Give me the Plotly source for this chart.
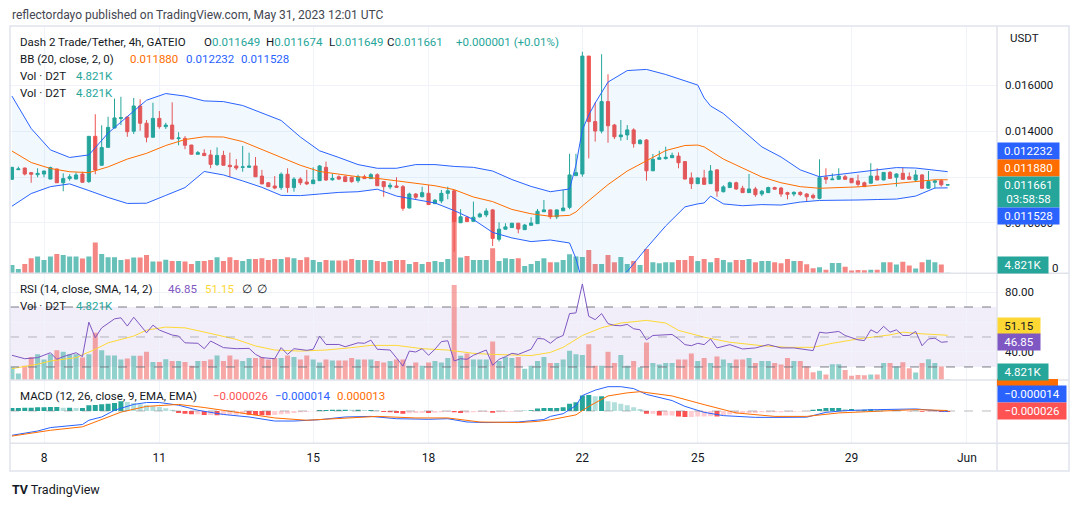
import plotly.graph_objects as go
import pandas as pd

W, H = 1079, 506

# ---------------- data ----------------
bar_times = pd.date_range("2023-05-07 04:00", periods=147, freq="4h")

opens = [
    .01190, .01232, .01239, .01219, .01210, .01213, .01191, .01235, .01175, .01193,
    .01191, .01213, .01180, .01377, .01251, .01329, .01413, .01455, .01461, .01399,
    .01509, .01434, .01373, .01455, .01419, .01426, .01367, .01368, .01339, .01299,
    .01303, .01296, .01254, .01294, .01251, .01248, .01242, .01242, .01248, .01204,
    .01175, .01161, .01154, .01212, .01154, .01191, .01178, .01171, .01184, .01242,
    .01188, .01201, .01201, .01199, .01184, .01201, .01193, .01210, .01180, .01157,
    .01161, .01158, .01065, .01126, .01114, .01129, .01084, .01096, .01129, .01140,
    .01001, .01025, .01007, .01027, .01035, .01057, .00929, .00973, .00980, .00999,
    .00971, .00990, .00997, .01049, .01057, .01027, .01053, .01068, .01206, .01213,
    .01726, .01441, .01400, .01528, .01426, .01375, .01383, .01405, .01345, .01361,
    .01227, .01277, .01280, .01284, .01291, .01267, .01196, .01171, .01196, .01171,
    .01231, .01136, .01154, .01175, .01151, .01132, .01148, .01126, .01132, .01154,
    .01152, .01132, .01126, .01133, .01126, .01120, .01107, .01199, .01188, .01190,
    .01201, .01194, .01183, .01175, .01173, .01204, .01187, .01220, .01199, .01216,
    .01201, .01187, .01209, .01151, .01177, .01184, .011649]
highs = [
    .01244, .01245, .01241, .01222, .01238, .01227, .01245, .01236, .01216, .01212,
    .01220, .01223, .01378, .01473, .01425, .01462, .01541, .01549, .01465, .01544,
    .01538, .01448, .01523, .01487, .01436, .01525, .01395, .01378, .01340, .01313,
    .01321, .01318, .01329, .01314, .01306, .01278, .01335, .01306, .01287, .01231,
    .01178, .01204, .01220, .01238, .01199, .01199, .01231, .01242, .01252, .01267,
    .01216, .01207, .01207, .01201, .01210, .01210, .01217, .01216, .01181, .01175,
    .01199, .01165, .01132, .01130, .01158, .01165, .01104, .01144, .01158, .01143,
    .01060, .01030, .01093, .01045, .01064, .01061, .01003, .00999, .01000, .01000,
    .00996, .01025, .01061, .01100, .01058, .01058, .01144, .01301, .01301, .01745,
    .01727, .01525, .01734, .01647, .01431, .01448, .01426, .01412, .01365, .01365,
    .01300, .01314, .01332, .01306, .01307, .01268, .01220, .01197, .01231, .01252,
    .01235, .01164, .01180, .01180, .01162, .01213, .01157, .01144, .01158, .01158,
    .01157, .01136, .01138, .01138, .01130, .01128, .01277, .01238, .01216, .01238,
    .01209, .01196, .01210, .01180, .01260, .01238, .01221, .01226, .01216, .01241,
    .01220, .01231, .01213, .01226, .01187, .01190, .011674]
lows = [
    .01187, .01230, .01207, .01175, .01199, .01199, .01190, .01174, .01138, .01184,
    .01190, .01176, .01174, .01212, .01250, .01328, .01412, .01426, .01375, .01387,
    .01401, .01351, .01372, .01410, .01409, .01364, .01338, .01321, .01298, .01298,
    .01292, .01238, .01248, .01250, .01199, .01230, .01223, .01241, .01200, .01169,
    .01157, .01147, .01144, .01132, .01136, .01165, .01165, .01170, .01183, .01183,
    .01184, .01187, .01179, .01175, .01175, .01192, .01192, .01161, .01114, .01147,
    .01154, .01053, .01064, .01100, .01112, .01079, .01083, .01086, .01103, .00875,
    .01000, .01004, .01006, .01023, .01025, .00900, .00919, .00972, .00979, .00955,
    .00970, .00989, .00996, .01048, .01017, .01017, .01052, .01060, .01205, .01201,
    .01281, .01354, .01390, .01349, .01365, .01358, .01361, .01328, .01342, .01184,
    .01226, .01276, .01276, .01283, .01238, .01190, .01148, .01170, .01167, .01170,
    .01114, .01133, .01153, .01144, .01131, .01131, .01114, .01117, .01131, .01146,
    .01114, .01103, .01116, .01117, .01093, .01103, .01103, .01170, .01187, .01189,
    .01189, .01174, .01158, .01157, .01172, .01186, .01186, .01193, .01158, .01189,
    .01189, .01180, .01150, .01150, .01150, .01158, .011649]
closes = [
    .01242, .01235, .01213, .01212, .01216, .01226, .01241, .01175, .01193, .01201,
    .01209, .01177, .01377, .01231, .01328, .01416, .01457, .01458, .01397, .01509,
    .01434, .01373, .01455, .01419, .01426, .01365, .01370, .01338, .01299, .01306,
    .01293, .01255, .01294, .01251, .01245, .01239, .01244, .01248, .01201, .01170,
    .01158, .01152, .01212, .01154, .01191, .01175, .01170, .01187, .01248, .01187,
    .01194, .01191, .01180, .01180, .01201, .01193, .01210, .01162, .01158, .01164,
    .01155, .01064, .01126, .01112, .01132, .01080, .01099, .01129, .01140, .01006,
    .01027, .01006, .01025, .01039, .01052, .00933, .00973, .00983, .00999, .00974,
    .00991, .01000, .01051, .01057, .01027, .01057, .01065, .01209, .01219, .01726,
    .01441, .01400, .01528, .01423, .01375, .01383, .01405, .01345, .01360, .01227,
    .01277, .01284, .01286, .01294, .01262, .01191, .01171, .01196, .01168, .01226,
    .01139, .01157, .01175, .01148, .01132, .01148, .01123, .01138, .01154, .01147,
    .01126, .01125, .01133, .01124, .01114, .01110, .01197, .01190, .01191, .01204,
    .01190, .01175, .01168, .01158, .01204, .01187, .01220, .01194, .01213, .01190,
    .01190, .01209, .01151, .01180, .01183, .01166, .011661]
volumes = [
    83000, 43000, 93000, 150000, 167000, 133000, 167000, 193000, 183000, 167000,
    167000, 147000, 167000, 307000, 193000, 160000, 160000, 133000, 140000, 157000,
    157000, 183000, 117000, 117000, 135000, 123000, 123000, 117000, 93000, 123000,
    123000, 133000, 160000, 123000, 160000, 133000, 123000, 143000, 143000, 150000,
    133000, 143000, 143000, 160000, 150000, 133000, 160000, 133000, 113000, 133000,
    127000, 127000, 127000, 143000, 133000, 133000, 133000, 123000, 113000, 123000,
    133000, 133000, 93000, 113000, 93000, 113000, 123000, 113000, 143000, 617000,
    157000, 173000, 133000, 133000, 133000, 250000, 123000, 150000, 143000, 150000,
    73000, 93000, 123000, 150000, 110000, 110000, 133000, 190000, 167000, 163000,
    233000, 93000, 93000, 183000, 110000, 163000, 93000, 123000, 83000, 243000,
    110000, 100000, 110000, 110000, 133000, 133000, 173000, 123000, 143000, 110000,
    153000, 133000, 110000, 133000, 133000, 143000, 110000, 123000, 123000, 110000,
    100000, 143000, 123000, 123000, 90000, 50000, 60000, 35000, 102000, 102000,
    65000, 28000, 32000, 31000, 35000, 35000, 110000, 110000, 88000, 115000,
    77000, 48000, 110000, 135000, 110000, 88000, 4821]

# Bollinger Bands (20, 2) sampled at these bar indices
bb_idx = [0, 3, 6, 9, 12, 15, 18, 21, 24, 27, 30, 33, 36, 39, 42, 45, 48, 51, 54, 57,
          60, 63, 66, 69, 72, 75, 78, 81, 84, 87, 88, 89, 90, 91, 93, 96, 99, 102, 105,
          107, 108, 109, 111, 114, 117, 120, 123, 126, 129, 132, 135, 138, 141, 144, 146]
bb_upper = [.01552, .01411, .01318, .01285, .01296, .01391, .01463, .01534, .01563, .01552,
            .01531, .01528, .01511, .01478, .01446, .01374, .01314, .01285, .01254, .01238,
            .01238, .01254, .01254, .01246, .01242, .01226, .01189, .01159, .01136, .01148,
            .01252, .01405, .01470, .01522, .01613, .01663, .01668, .01646, .01620,
            .01600, .01544, .01509, .01476, .01405, .01331, .01287, .01231, .01201, .01211,
            .01222, .01233, .01241, .01239, .01228, .012232]
bb_basis = [.01313, .01263, .01237, .01223, .01219, .01244, .01278, .01303, .01337, .01363,
            .01375, .01374, .01354, .01320, .01285, .01251, .01224, .01211, .01201, .01194,
            .01184, .01175, .01162, .01145, .01113, .01093, .01059, .01040, .01029, .01033,
            .01048, .01074, .01098, .01122, .01167, .01226, .01272, .01315, .01337,
            .01339, .01331, .01313, .01278, .01239, .01200, .01175, .01158, .01151, .01153,
            .01157, .01164, .01171, .01181, .01188, .011880]
bb_lower = [.01073, .01128, .01158, .01170, .01141, .01111, .01085, .01086, .01120, .01154,
            .01224, .01209, .01183, .01155, .01120, .01119, .01126, .01133, .01136, .01147,
            .01117, .01102, .01087, .01054, .01015, .00959, .00935, .00919, .00926, .00913,
            .00845, .00743, .00726, .00722, .00722, .00789, .00891, .00987, .01070,
            .01083, .01087, .01117, .01083, .01075, .01080, .01078, .01091, .01098, .01098,
            .01100, .01102, .01104, .01117, .01152, .011528]

# RSI (14) and its SMA (14)
rsi_idx = [0, 1, 2, 4, 6, 7, 8, 10, 11, 12, 13, 14, 16, 17, 18, 19, 21, 22, 23, 25,
           26, 27, 29, 30, 31, 33, 35, 37, 38, 39, 41, 42, 43, 44, 46, 47, 48, 49, 51, 52,
           54, 55, 56, 57, 59, 60, 61, 62, 63, 64, 65, 66, 67, 68, 69, 70, 71, 72, 74, 75,
           76, 77, 78, 79, 81, 82, 83, 84, 85, 86, 87, 88, 89, 90, 91, 92, 93, 94, 95, 96,
           97, 98, 99, 100, 103, 104, 105, 106, 107, 108, 109, 110, 111, 112, 114, 116, 118, 120, 122, 124,
           125, 126, 127, 129, 130, 132, 133, 134, 135, 136, 137, 138, 139, 140, 141, 142, 143, 144, 145, 146]
rsi_val = [37.8, 36.9, 35.5, 36.2, 39.5, 35.1, 36.9, 39.5, 36.9, 59.9,
           49.5, 56.1, 62.1, 62.8, 57.3, 63.2, 52.8, 57.9, 54.6, 51.3,
           50.6, 46.1, 45.8, 42.2, 47.3, 42.9, 42.2, 42.4, 38.4, 36.2,
           35.5, 42.9, 38.4, 42.2, 41.1, 41.8, 50.6, 45.0, 45.0, 43.5,
           46.1, 45.8, 47.9, 41.8, 41.3, 36.0, 30.6, 40.6, 40.0, 42.2,
           37.8, 41.8, 46.9, 47.5, 34.0, 35.5, 35.1, 37.8, 41.3, 31.1,
           35.1, 36.9, 39.1, 38.4, 41.8, 49.0, 48.7, 45.8, 49.2, 51.0,
           65.6, 66.1, 85.4, 63.8, 61.6, 65.6, 58.9, 57.7, 57.5, 58.4,
           55.5, 54.8, 48.1, 51.0, 51.7, 48.7, 44.9, 44.2, 45.8, 44.9,
           48.7, 42.7, 44.0, 44.9, 42.0, 42.7, 44.9, 42.7, 42.7, 41.3,
           40.9, 53.2, 52.6, 53.7, 51.0, 48.1, 47.6, 54.8, 52.6, 57.1,
           53.2, 54.8, 51.0, 51.0, 53.7, 44.2, 48.7, 49.2, 46.5, 46.85]
rsima_idx = [0, 4, 6, 10, 13, 15, 19, 21, 24, 27, 30, 35, 38, 41, 45, 49, 53, 56, 60, 64,
             68, 72, 75, 81, 84, 86, 89, 92, 95, 99, 102, 104, 108, 112, 117, 121, 125, 128, 132, 137,
             139, 142, 146]
rsima_val = [28.9, 31.8, 34.0, 36.2, 41.8, 46.1, 50.6, 54.6, 56.6, 56.1,
             53.3, 48.4, 44.0, 41.3, 40.6, 41.3, 42.9, 44.4, 44.4, 42.2,
             41.3, 39.1, 38.4, 37.6, 39.7, 43.1, 51.0, 56.2, 59.3, 61.1,
             59.3, 54.4, 49.9, 46.5, 44.2, 43.1, 43.1, 45.8, 48.7, 51.4,
             53.2, 52.1, 51.15]

# MACD (12, 26, 9)
macd_idx = [0, 4, 6, 11, 12, 14, 16, 19, 21, 23, 26, 29, 33, 37, 41, 44, 48, 52, 56, 60,
            65, 68, 71, 74, 79, 81, 83, 84, 86, 88, 89, 91, 93, 95, 97, 99, 103, 105, 108, 111,
            116, 120, 124, 127, 130, 135, 141, 146]
macd_val = [-630e-6, -520e-6, -430e-6, -350e-6, -240e-6, -155e-6, 20e-6, 170e-6, 220e-6, 220e-6,
            150e-6, 20e-6, -90e-6, -155e-6, -260e-6, -260e-6, -225e-6, -155e-6, -140e-6, -200e-6,
            -215e-6, -200e-6, -285e-6, -300e-6, -285e-6, -260e-6, -220e-6, -140e-6, -70e-6, 140e-6,
            400e-6, 540e-6, 630e-6, 630e-6, 580e-6, 430e-6, 270e-6, 120e-6, -35e-6, -120e-6,
            -165e-6, -165e-6, -160e-6, -35e-6, 10e-6, 35e-6, 53e-6, -14e-6]
signal_idx = [0, 6, 11, 14, 17, 21, 26, 30, 36, 41, 46, 52, 57, 63, 68, 73, 79, 82, 84, 88,
              90, 93, 96, 98, 103, 108, 113, 119, 124, 129, 135, 141, 146]
signal_val = [-650e-6, -500e-6, -410e-6, -225e-6, -30e-6, 120e-6, 170e-6, 90e-6, -50e-6, -180e-6,
              -240e-6, -180e-6, -140e-6, -180e-6, -180e-6, -285e-6, -300e-6, -270e-6, -230e-6, -100e-6,
              120e-6, 390e-6, 470e-6, 500e-6, 390e-6, 165e-6, -50e-6, -140e-6, -140e-6, -50e-6,
              -10e-6, 35e-6, 13e-6]
macd_hist = [
    78e-6, 78e-6, 85e-6, 85e-6, 95e-6, 95e-6, 103e-6, 103e-6, 85e-6, 85e-6,
    78e-6, 78e-6, 148e-6, 155e-6, 173e-6, 190e-6, 208e-6, 250e-6, 233e-6, 208e-6,
    173e-6, 148e-6, 120e-6, 103e-6, 70e-6, 35e-6, -53e-6, -70e-6, -85e-6, -85e-6,
    -103e-6, -103e-6, -113e-6, -103e-6, -95e-6, -95e-6, -85e-6, -95e-6, -103e-6, -108e-6,
    -113e-6, -103e-6, -85e-6, -70e-6, -53e-6, -35e-6, -18e-6, -8e-6, 25e-6, 25e-6,
    30e-6, 35e-6, 35e-6, 30e-6, 35e-6, 25e-6, 25e-6, 18e-6, -25e-6, -35e-6,
    -53e-6, -70e-6, -60e-6, -53e-6, -43e-6, -53e-6, -43e-6, -35e-6, -18e-6, -35e-6,
    -53e-6, -43e-6, -35e-6, -25e-6, -25e-6, -43e-6, -35e-6, -25e-6, -18e-6, -8e-6,
    8e-6, 18e-6, 63e-6, 80e-6, 80e-6, 80e-6, 98e-6, 185e-6, 225e-6, 400e-6,
    413e-6, 385e-6, 385e-6, 255e-6, 228e-6, 185e-6, 150e-6, 98e-6, 53e-6, -70e-6,
    -70e-6, -115e-6, -115e-6, -115e-6, -140e-6, -158e-6, -158e-6, -140e-6, -140e-6, -133e-6,
    -145e-6, -105e-6, -88e-6, -70e-6, -53e-6, -53e-6, -53e-6, -35e-6, -35e-6, -35e-6,
    -35e-6, -18e-6, -18e-6, -13e-6, -8e-6, 35e-6, 53e-6, 80e-6, 80e-6, 80e-6,
    53e-6, 53e-6, 35e-6, 35e-6, 45e-6, 35e-6, 25e-6, 18e-6, 18e-6, 8e-6,
    -8e-6, 8e-6, -18e-6, -18e-6, -18e-6, -25e-6, -26e-6]

date_ticks = ["2023-05-08", "2023-05-11", "2023-05-15", "2023-05-18",
              "2023-05-22", "2023-05-25", "2023-05-29", "2023-06-01"]
date_labels = ["8", "11", "15", "18", "22", "25", "29", "Jun"]
price_ticks = [0.010, 0.012, 0.014, 0.016]
price_labels = ["0.010000", "", "0.014000", "0.016000"]   # 0.012000 sits under the value tags
rsi_ticks = [40, 60, 80]
rsi_labels = ["40.00", "", "80.00"]                          # 60.00 sits under the 51.15 tag

# ---------------- styling ----------------
UP, DOWN = "#26a69a", "#ef5350"
BLUE, ORANGE, PURPLE, YELLOW = "#2962ff", "#ff6d00", "#7e57c2", "#fdd835"
TXT = "#131722"
GRID = "#f0f3fa"
BORDER = "#e0e3eb"
FONT = "Roboto"


def px_x(x):
    return x / W


def px_y(y):
    return 1 - y / H


X0, X1 = 10, 997            # plot area (pixels)
MAIN = (26, 273.3)
RSI = (273.3, 380)
MACD = (380, 443.3)

up = [c >= o for o, c in zip(opens, closes)]
vol_main_col = ["rgba(38,166,154,0.7)" if u else "rgba(239,83,80,0.7)" for u in up]
vol_rsi_col = ["rgba(38,166,154,0.5)" if u else "rgba(239,83,80,0.5)" for u in up]
hist_col = []
for k, hv in enumerate(macd_hist):
    prev = macd_hist[k - 1] if k else hv
    if hv >= 0:
        hist_col.append("#26a69a" if hv >= prev else "#b2dfdb")
    else:
        hist_col.append("#ff5252" if hv < prev else "#ffcdd2")

bt = list(bar_times)
bb_t = [bt[i] for i in bb_idx]
rsi_t = [bt[i] for i in rsi_idx]
rsima_t = [bt[i] for i in rsima_idx]
macd_t = [bt[i] for i in macd_idx]
signal_t = [bt[i] for i in signal_idx]

fig = go.Figure()
# main pane volume (base axis y)
fig.add_trace(go.Bar(x=bar_times, y=volumes, marker=dict(color=vol_main_col, line=dict(width=0)),
                     xaxis="x", yaxis="y"))
# Bollinger bands (overlay axis y2)
fig.add_trace(go.Scatter(x=bb_t, y=bb_upper, mode="lines", line=dict(color=BLUE, width=1),
                         xaxis="x", yaxis="y2"))
fig.add_trace(go.Scatter(x=bb_t, y=bb_lower, mode="lines", line=dict(color=BLUE, width=1),
                         fill="tonexty", fillcolor="rgba(33,150,243,0.06)", xaxis="x", yaxis="y2"))
fig.add_trace(go.Scatter(x=bb_t, y=bb_basis, mode="lines", line=dict(color=ORANGE, width=1),
                         xaxis="x", yaxis="y2"))
fig.add_trace(go.Candlestick(
    x=bar_times, open=opens, high=highs, low=lows, close=closes, xaxis="x", yaxis="y2",
    increasing=dict(line=dict(color=UP, width=1), fillcolor=UP),
    decreasing=dict(line=dict(color=DOWN, width=1), fillcolor=DOWN),
    whiskerwidth=0))
# RSI pane volume (y3) + RSI (y4)
fig.add_trace(go.Bar(x=bar_times, y=volumes, marker=dict(color=vol_rsi_col, line=dict(width=0)),
                     xaxis="x", yaxis="y3"))
fig.add_trace(go.Scatter(x=rsima_t, y=rsima_val, mode="lines", line=dict(color=YELLOW, width=1),
                         xaxis="x", yaxis="y4"))
fig.add_trace(go.Scatter(x=rsi_t, y=rsi_val, mode="lines", line=dict(color=PURPLE, width=1),
                         xaxis="x", yaxis="y4"))
# MACD pane (y5)
fig.add_trace(go.Bar(x=bar_times, y=macd_hist, marker=dict(color=hist_col, line=dict(width=0)),
                     xaxis="x", yaxis="y5"))
fig.add_trace(go.Scatter(x=macd_t, y=macd_val, mode="lines", line=dict(color=BLUE, width=1),
                         xaxis="x", yaxis="y5"))
fig.add_trace(go.Scatter(x=signal_t, y=signal_val, mode="lines", line=dict(color=ORANGE, width=1),
                         xaxis="x", yaxis="y5"))


def dom(p):
    return [px_y(p[1]), px_y(p[0])]


tickfont = dict(family=FONT, size=11.5, color=TXT)
fig.update_layout(
    width=W, height=H, margin=dict(l=0, r=0, t=0, b=0),
    paper_bgcolor="white", plot_bgcolor="white", showlegend=False, hovermode=False,
    barmode="overlay", bargap=0.22,
    font=dict(family=FONT, color=TXT),
    xaxis=dict(type="date", domain=[px_x(X0), px_x(X1)],
               range=["2023-05-07 02:47", "2023-06-01 18:46"], anchor="y5",
               tickvals=date_ticks, ticktext=date_labels, tickfont=dict(family=FONT, size=12, color=TXT),
               showgrid=True, gridcolor=GRID, zeroline=False, showline=False, ticks="",
               ticklabelstandoff=6, rangeslider=dict(visible=False), fixedrange=True),
    yaxis=dict(domain=dom(MAIN), range=[0, 2473000], visible=False, anchor="x", fixedrange=True),
    yaxis2=dict(overlaying="y", side="right", anchor="x", range=[0.007811, 0.018569],
                tickvals=price_ticks, ticktext=price_labels,
                tickfont=tickfont, showgrid=True, gridcolor=GRID, zeroline=False, ticks="",
                ticklabelstandoff=7, fixedrange=True),
    yaxis3=dict(domain=dom(RSI), range=[0, 693550], visible=False, anchor="x", fixedrange=True),
    yaxis4=dict(overlaying="y3", side="right", anchor="x", range=[21.3, 92.5],
                tickvals=rsi_ticks, ticktext=rsi_labels, tickfont=tickfont,
                showgrid=True, gridcolor=GRID, zeroline=False, ticks="", ticklabelstandoff=7,
                fixedrange=True),
    yaxis5=dict(domain=dom(MACD), range=[-0.000837, 0.000803], side="right", anchor="x",
                showticklabels=False, showgrid=False, zeroline=False, ticks="", fixedrange=True),
)

shapes = [
    dict(type="rect", xref="x domain", x0=0, x1=1, yref="y4", y0=30, y1=70,
         fillcolor="rgba(126,87,194,0.1)", line=dict(width=0), layer="below"),
    dict(type="line", xref="x domain", x0=0, x1=1, yref="y4", y0=70, y1=70,
         line=dict(color="#787b86", width=1, dash="dash")),
    dict(type="line", xref="x domain", x0=0, x1=1, yref="y4", y0=50, y1=50,
         line=dict(color="rgba(120,123,134,0.5)", width=1, dash="dash")),
    dict(type="line", xref="x domain", x0=0, x1=1, yref="y4", y0=30, y1=30,
         line=dict(color="#787b86", width=1, dash="dash")),
    dict(type="line", xref="x domain", x0=0, x1=1, yref="y5", y0=0, y1=0,
         line=dict(color="rgba(120,123,134,0.5)", width=1, dash="dash")),
]
FR_L, FR_R, FR_T, FR_B = 10, 1069, 26, 471
for yy in (RSI[0], RSI[1], MACD[1]):
    shapes.append(dict(type="line", xref="paper", yref="paper", x0=px_x(FR_L), x1=px_x(FR_R),
                       y0=px_y(yy), y1=px_y(yy), line=dict(color=BORDER, width=1.5)))
shapes.append(dict(type="line", xref="paper", yref="paper", x0=px_x(X1), x1=px_x(X1),
                   y0=px_y(FR_T), y1=px_y(FR_B), line=dict(color=BORDER, width=1.5)))
shapes.append(dict(type="rect", xref="paper", yref="paper", x0=px_x(FR_L), x1=px_x(FR_R),
                   y0=px_y(FR_B), y1=px_y(FR_T), line=dict(color=BORDER, width=1.5)))
# signal-line tag of the MACD pane, mostly covered by the neighbouring tags
shapes.append(dict(type="rect", xref="paper", yref="paper", x0=px_x(X1), x1=px_x(1058),
                   y0=px_y(386), y1=px_y(379), fillcolor=ORANGE, line=dict(width=0)))
fig.update_layout(shapes=shapes)

anns = []


def txt(x, y, text, color=TXT, size=11.5, **kw):
    anns.append(dict(x=px_x(x), y=px_y(y), xref="paper", yref="paper", text=text, showarrow=False,
                     xanchor=kw.pop("xanchor", "left"), yanchor="middle",
                     font=dict(family=FONT, size=size, color=color), **kw))


def box(y, text, bg, width, height=16, fg="white"):
    anns.append(dict(x=px_x(X1), y=px_y(y), xref="paper", yref="paper", text=text, showarrow=False,
                     xanchor="left", yanchor="middle", bgcolor=bg, borderpad=0, width=width,
                     height=height, align="center", valign="middle",
                     font=dict(family=FONT, size=11.5, color=fg)))


def g(s):
    return f"<span style='color:{UP}'>{s}</span>"


last = len(closes) - 1
chg = closes[last] - closes[last - 1]
vol_txt = f"{volumes[last] / 1000:.3f}K"

txt(10, 15, "reflectordayo published on TradingView.com, May 31, 2023 12:01 UTC", color="#434651", size=12)
txt(18, 42.5, "Dash 2 Trade/Tether, 4h, GATEIO")
txt(201.8, 42.5, "O" + g(f"{opens[last]:.6f}"))
txt(264, 42.5, "H" + g(f"{highs[last]:.6f}"))
txt(326.8, 42.5, "L" + g(f"{lows[last]:.6f}"))
txt(385, 42.5, "C" + g(f"{closes[last]:.6f}"))
txt(453.6, 42.5, g(f"{chg:+.6f} ({chg / closes[last - 1] * 100:+.2f}%)"))
txt(18, 59.3, "BB (20, close, 2, 0)")
txt(127.9, 59.3, f"{bb_basis[-1]:.6f}", color=ORANGE)
txt(184, 59.3, f"{bb_upper[-1]:.6f}", color=BLUE)
txt(239.3, 59.3, f"{bb_lower[-1]:.6f}", color=BLUE)
txt(18, 76, "Vol · D2T")
txt(74, 76, vol_txt, color=UP)
txt(18, 92.7, "Vol · D2T")
txt(74, 92.7, vol_txt, color=UP)
txt(18, 289.3, "RSI (14, close, SMA, 14, 2)")
txt(166, 289.3, f"{rsi_val[-1]:.2f}", color=PURPLE)
txt(202.5, 289.3, f"{rsima_val[-1]:.2f}", color=YELLOW)
txt(240.4, 289.3, "∅")
txt(254.8, 289.3, "∅")
txt(18, 306, "Vol · D2T")
txt(74, 306, vol_txt, color=UP)
txt(18, 396, "MACD (12, 26, close, 9, EMA, EMA)")
txt(210.7, 396, f"{macd_hist[-1]:.6f}".replace("-", "−"), color="#ff5252")
txt(273, 396, f"{macd_val[-1]:.6f}".replace("-", "−"), color=BLUE)
txt(334.7, 396, f"{signal_val[-1]:.6f}", color=ORANGE)
txt(1008, 38, "USDT")
txt(1050, 268.3, "0")
txt(10, 489, "<b>TV</b> TradingView", size=12.5)

box(151.2, f"{bb_upper[-1]:.6f}", BLUE, 61)
box(167.8, f"{bb_basis[-1]:.6f}", ORANGE, 61)
box(191.7, f"{closes[last]:.6f}<br>03:58:58", UP, 61, height=30)
box(216.3, f"{bb_lower[-1]:.6f}", BLUE, 61)
box(264.8, vol_txt, UP, 50)
box(325.5, f"{rsima_val[-1]:.2f}", YELLOW, 42, fg=TXT)
box(342, f"{rsi_val[-1]:.2f}", PURPLE, 42)
box(372, vol_txt, UP, 50)
box(394.2, f"{macd_val[-1]:.6f}".replace("-", "−"), BLUE, 68)
box(410.8, f"{macd_hist[-1]:.6f}".replace("-", "−"), "#ff5252", 68)
fig.update_layout(annotations=anns)

fig.write_html("out.html", config={"displayModeBar": False, "staticPlot": True},
               post_script="document.body.style.margin='0';")
